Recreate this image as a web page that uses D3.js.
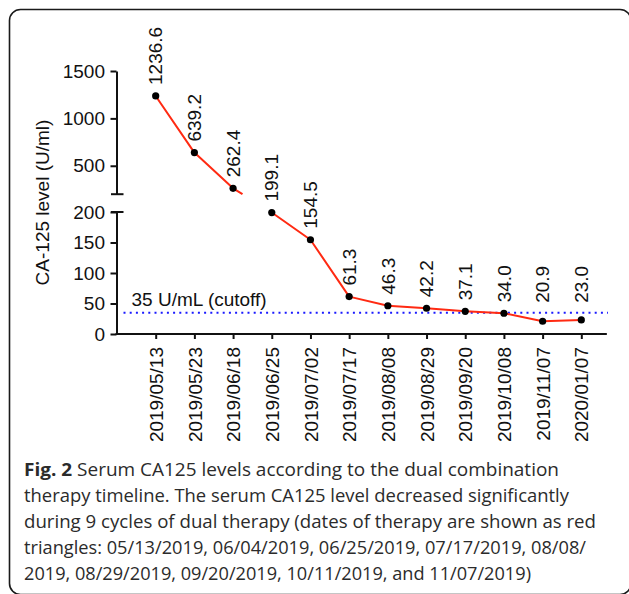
<!DOCTYPE html>
<html>
<head>
<meta charset="utf-8">
<script src="https://cdn.jsdelivr.net/npm/d3@7"></script>
<style>
  html, body { margin: 0; padding: 0; background: #fff; }
  svg { display: block; }
</style>
</head>
<body>
<script>
// ---------------- data ----------------
const dates = ["2019/05/13","2019/05/23","2019/06/18","2019/06/25","2019/07/02","2019/07/17",
               "2019/08/08","2019/08/29","2019/09/20","2019/10/08","2019/11/07","2020/01/07"];
const values = [1236.6, 639.2, 262.4, 199.1, 154.5, 61.3, 46.3, 42.2, 37.1, 34.0, 20.9, 23.0];
const yTicksUpper = [500, 1000, 1500];
const yTicksLower = [0, 50, 100, 150, 200];
const breakValue = 200;
const cutoff = 35;
const cutoffLabel = "35 U/mL (cutoff)";
const yTitle = "CA-125 level (U/ml)";
const captionBold = "Fig. 2";
const captionLines = [
  " Serum CA125 levels according to the dual combination",
  "therapy timeline. The serum CA125 level decreased significantly",
  "during 9 cycles of dual therapy (dates of therapy are shown as red",
  "triangles: 05/13/2019, 06/04/2019, 06/25/2019, 07/17/2019, 08/08/",
  "2019, 08/29/2019, 09/20/2019, 10/11/2019, and 11/07/2019)"
];

// ---------------- layout ----------------
const W = 629, H = 594;
const axisX = 116.5, axisY = 334;
const font = "'Liberation Sans', Arial, Helvetica, sans-serif";
const fs = 19;
const captionWidths = [535, 545, 572, 562, 507];
const captionBaselines = [476, 502, 528, 554, 580];

const svg = d3.select("body").append("svg").attr("width", W).attr("height", H);
svg.append("rect").attr("width", W).attr("height", H).attr("fill", "#fff");

// frame (right and bottom edges fall just outside the picture)
svg.append("rect").attr("x", 9.5).attr("y", 9.5).attr("width", 621.5).attr("height", 585)
  .attr("rx", 11).attr("fill", "none").attr("stroke", "#1a1a1a").attr("stroke-width", 1.6);

// scales
const x = d3.scalePoint().domain(dates).range([117, 620]).padding(1);
const yU = d3.scaleLinear().domain([breakValue, 1500]).range([194.2, 71]);
const yL = d3.scaleLinear().domain([0, breakValue]).range([axisY, 212]);
const y = v => v > breakValue ? yU(v) : yL(v);

function styleAxis(g) {
  g.selectAll("path, line").attr("stroke", "#111").attr("stroke-width", 2);
  g.selectAll("text").attr("font-family", font).attr("font-size", fs).attr("fill", "#111");
}

const intFmt = d3.format("d");
// y axis upper
const gU = svg.append("g").attr("transform", `translate(${axisX},0)`)
  .call(d3.axisLeft(yU).tickValues(yTicksUpper).tickFormat(intFmt).tickSize(6).tickSizeOuter(0).tickPadding(5.5));
styleAxis(gU);
// y axis lower
const gL = svg.append("g").attr("transform", `translate(${axisX},0)`)
  .call(d3.axisLeft(yL).tickValues(yTicksLower).tickFormat(intFmt).tickSize(6).tickSizeOuter(0).tickPadding(5.5));
styleAxis(gL);
// break caps
[yU(breakValue), yL(breakValue)].forEach(yy => {
  svg.append("line").attr("x1", axisX - 5.5).attr("x2", axisX + 7).attr("y1", yy).attr("y2", yy)
    .attr("stroke", "#111").attr("stroke-width", 2);
});

// x axis
const gX = svg.append("g").attr("transform", `translate(0,${axisY})`)
  .call(d3.axisBottom(x).tickSize(5).tickSizeOuter(0));
gX.select(".domain").attr("d", `M${axisX - 1},0H${x(dates[dates.length - 1]) + x.step() * 0.66}`);
styleAxis(gX);
gX.selectAll(".tick text")
  .attr("transform", "rotate(-90)")
  .attr("text-anchor", "end")
  .attr("x", -13).attr("y", 0).attr("dy", "0.35em");

// cutoff line
svg.append("line").attr("x1", axisX + 7).attr("x2", 608)
  .attr("y1", yL(cutoff)).attr("y2", yL(cutoff))
  .attr("stroke", "#1a1aff").attr("stroke-width", 2).attr("stroke-dasharray", "2 4.2");
svg.append("text").attr("x", 131.5).attr("y", yL(cutoff) - 6.5)
  .attr("font-family", font).attr("font-size", fs).attr("fill", "#111").text(cutoffLabel);

// series line (broken at axis break)
const pts = dates.map((d, i) => ({ d, v: values[i], px: x(d), py: y(values[i]), upper: values[i] > breakValue }));
const p = d3.path();
for (let i = 0; i < pts.length - 1; i++) {
  const a = pts[i], b = pts[i + 1];
  if (a.upper === b.upper) {
    p.moveTo(a.px, a.py); p.lineTo(b.px, b.py);
  } else {
    const yb = yU(breakValue);
    const t = (yb - a.py) / (b.py - a.py);
    p.moveTo(a.px, a.py); p.lineTo(a.px + t * (b.px - a.px), yb);
  }
}
svg.append("path").attr("d", p.toString()).attr("fill", "none")
  .attr("stroke", "#ff2a12").attr("stroke-width", 2);

// points
svg.append("g").selectAll("circle").data(pts).join("circle")
  .attr("cx", d => d.px).attr("cy", d => d.py).attr("r", 3.6).attr("fill", "#000");

// value labels
const fmt = d3.format(".1f");
svg.append("g").selectAll("text").data(pts).join("text")
  .attr("transform", d => `translate(${d.px},${y(Math.max(d.v, 33)) - 11}) rotate(-90)`)
  .attr("dy", "0.35em")
  .attr("text-anchor", "start")
  .attr("font-family", font).attr("font-size", fs).attr("fill", "#111")
  .text(d => fmt(d.v));

// y title
svg.append("text").attr("transform", `translate(49,${(yU(1500) + axisY) / 2}) rotate(-90)`)
  .attr("text-anchor", "middle")
  .attr("font-family", font).attr("font-size", fs).attr("fill", "#111").text(yTitle);

// caption
const cap = svg.append("g").attr("font-family", "'Open Sans', 'Noto Sans', sans-serif")
  .attr("font-size", 18).attr("fill", "#2b2b2b");
captionLines.forEach((line, i) => {
  const t = cap.append("text").attr("x", 24).attr("y", captionBaselines[i])
    .attr("textLength", captionWidths[i]).attr("lengthAdjust", "spacingAndGlyphs");
  if (i === 0) {
    t.append("tspan").attr("font-weight", "bold").text(captionBold);
  }
  t.append("tspan").text(line);
});
</script>
</body>
</html>
